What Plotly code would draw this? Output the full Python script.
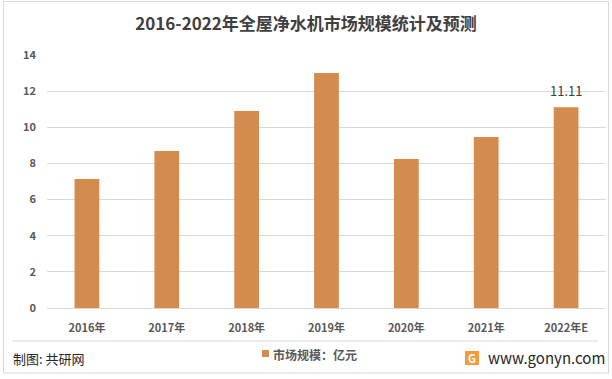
import plotly.graph_objects as go

categories = ["2016年", "2017年", "2018年", "2019年", "2020年", "2021年", "2022年E"]
values = [7.14, 8.69, 10.9, 13.0, 8.25, 9.46, 11.11]
labels = ["", "", "", "", "", "", "11.11"]
series_name = "市场规模：亿元"
title = "2016-2022年全屋净水机市场规模统计及预测"

W, H = 612, 379
L, R, T, B = 47, 6, 55, 71
PW, PH = W - L - R, H - T - B

def px(x):
    return (x - L) / PW

def py(y):
    return (H - B - y) / PH

FONT = "Noto Sans CJK SC"
BAR = "#D38B4E"

fig = go.Figure()
fig.add_trace(go.Bar(
    x=categories, y=values, name=series_name,
    marker=dict(color=BAR, line=dict(width=0)),
    width=0.31, showlegend=False,
))

fig.update_layout(
    width=W, height=H,
    margin=dict(l=L, r=R, t=T, b=B),
    paper_bgcolor="white", plot_bgcolor="white",
    font=dict(family=FONT, color="#595959"),
    title=dict(text="<b>" + title + "</b>", x=306 / W, xref="container", xanchor="center",
               y=1 - 24 / H, yanchor="middle",
               font=dict(family=FONT, size=17, color="#404040")),
    showlegend=False,
)
fig.update_xaxes(showgrid=False, showline=False, ticks="",
                 tickfont=dict(family=FONT, size=11, color="#595959", weight="bold"),
                 ticklabelstandoff=12)
fig.update_yaxes(range=[0, 14], dtick=2, showgrid=True, gridcolor="#D9D9D9", gridwidth=1,
                 zeroline=True, zerolinecolor="#D9D9D9", zerolinewidth=1,
                 showline=False, ticks="",
                 tickfont=dict(family=FONT, size=11, color="#595959", weight="bold"),
                 ticklabelstandoff=10)

shapes = [
    dict(type="rect", xref="paper", yref="paper", x0=px(3.5), x1=px(608.5), y0=py(373), y1=py(1.5),
         line=dict(color="#D9D9D9", width=1), layer="below"),
    dict(type="line", xref="paper", yref="paper", x0=px(12), x1=px(598), y0=py(341), y1=py(341),
         line=dict(color="#D9D9D9", width=1)),
    # legend swatch
    dict(type="rect", xref="paper", yref="paper", x0=px(262), x1=px(269), y0=py(357), y1=py(350),
         line=dict(width=0), fillcolor=BAR),
    # logo
    dict(type="rect", xref="paper", yref="paper", x0=px(465), x1=px(479), y0=py(365), y1=py(351),
         line=dict(width=0), fillcolor="#F39A3C"),
]
annotations = [
    dict(text="<b>" + series_name + "</b>", xref="paper", yref="paper", x=px(271), y=py(354),
         xanchor="left", yanchor="middle", showarrow=False,
         font=dict(family=FONT, size=12, color="#595959")),
    dict(text="制图: 共研网", xref="paper", yref="paper", x=px(11), y=py(358), xanchor="left",
         yanchor="middle", showarrow=False, font=dict(family=FONT, size=13, color="#262626")),
    dict(text="www.gonyn.com", xref="paper", yref="paper", x=px(486), y=py(357), xanchor="left",
         yanchor="middle", showarrow=False, font=dict(family=FONT, size=15, color="#262626")),
    dict(text="<b>G</b>", xref="paper", yref="paper", x=px(472), y=py(358), xanchor="center",
         yanchor="middle", showarrow=False, font=dict(family=FONT, size=11, color="white")),
]
for c, v, t in zip(categories, values, labels):
    if t:
        annotations.append(dict(text=t, x=c, y=v, xref="x", yref="y", yanchor="bottom",
                                yshift=5, showarrow=False,
                                font=dict(family=FONT, size=13, color="#404040")))
fig.update_layout(shapes=shapes, annotations=annotations)

fig.write_html("out.html", config={"displayModeBar": False},
               post_script="document.body.style.margin='0';")
